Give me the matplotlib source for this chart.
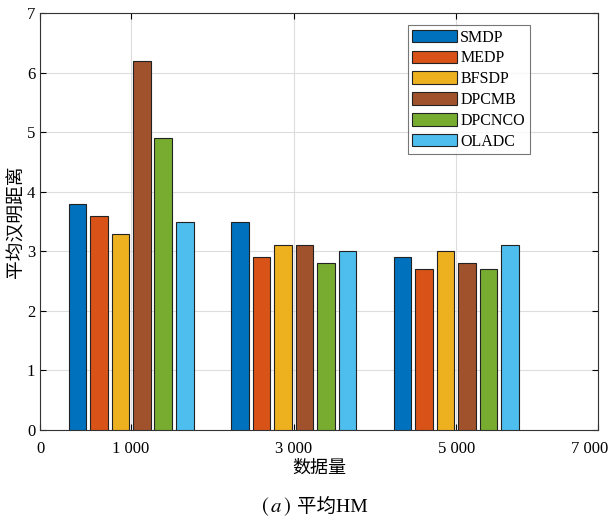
import numpy as np
import matplotlib.pyplot as plt
import matplotlib.transforms as mtransforms

plt.rcParams['font.family'] = ['Liberation Serif', 'Noto Sans CJK SC']
plt.rcParams['mathtext.fontset'] = 'stix'

groups = ['1 000', '3 000', '5 000']
methods = ['SMDP', 'MEDP', 'BFSDP', 'DPCMB', 'DPCNCO', 'OLADC']
values = [
    [3.8, 3.5, 2.9],  # SMDP
    [3.6, 2.9, 2.7],  # MEDP
    [3.3, 3.1, 3.0],  # BFSDP
    [6.2, 3.1, 2.8],  # DPCMB
    [4.9, 2.8, 2.7],  # DPCNCO
    [3.5, 3.0, 3.1],  # OLADC
]
colors = ['#0072BD', '#D95319', '#EDB120', '#A0522D', '#77AC30', '#4DBEEE']

fig = plt.figure(figsize=(6.1, 5.27), dpi=100)
ax = fig.add_axes([0.0656, 0.184, 0.9144, 0.791])

x = np.arange(1, len(groups) + 1)
step = 0.132
width = 0.108
for i, m in enumerate(methods):
    ax.bar(x + (i - 2.5) * step, values[i], width, color=colors[i],
           edgecolor='#222222', linewidth=0.8, label=m, zorder=3)

xmin, xmax = 0.44, 3.87
ax.set_xlim(xmin, xmax)
ax.set_ylim(0, 7)
ax.set_xticks([xmin, 1, 2, 3, xmax])
ax.set_xticklabels(['0'] + groups + ['7 000'])
ax.set_yticks(range(0, 8))
ax.set_yticklabels(['0', '1', '2', '3', '4', '5', '6', '7'])
ax.tick_params(direction='in', labelsize=12, top=True, right=True, length=4)
ax.tick_params(axis='x', pad=8)
ax.grid(True, color='#dddddd', linewidth=0.8, zorder=0)
for s in ax.spines.values():
    s.set_color('#333333')
    s.set_linewidth(0.8)

# last tick label sits at the right figure edge
last = ax.get_xticklabels()[-1]
last.set_horizontalalignment('right')
last.set_transform(last.get_transform() +
                   mtransforms.ScaledTranslation(0.1, 0, fig.dpi_scale_trans))

ax.set_xlabel('数据量', fontsize=13, labelpad=2)
ax.set_ylabel('平均汉明距离', fontsize=13.5, labelpad=1)

leg = ax.legend(loc='upper left', bbox_to_anchor=(0.659, 0.972), fontsize=11.5,
                fancybox=False, handlelength=2.8, handleheight=0.85,
                handletextpad=0.2, labelspacing=0.3, borderpad=0.3,
                borderaxespad=0)
leg.get_frame().set_edgecolor('#555555')
leg.get_frame().set_linewidth(0.8)

fig.text(291 / 610, 0.028, r'$(\,a\,)$', ha='right', fontsize=15)
fig.text(297 / 610, 0.028, '平均HM', ha='left', fontsize=14)

fig.savefig('out.png', dpi=100)
